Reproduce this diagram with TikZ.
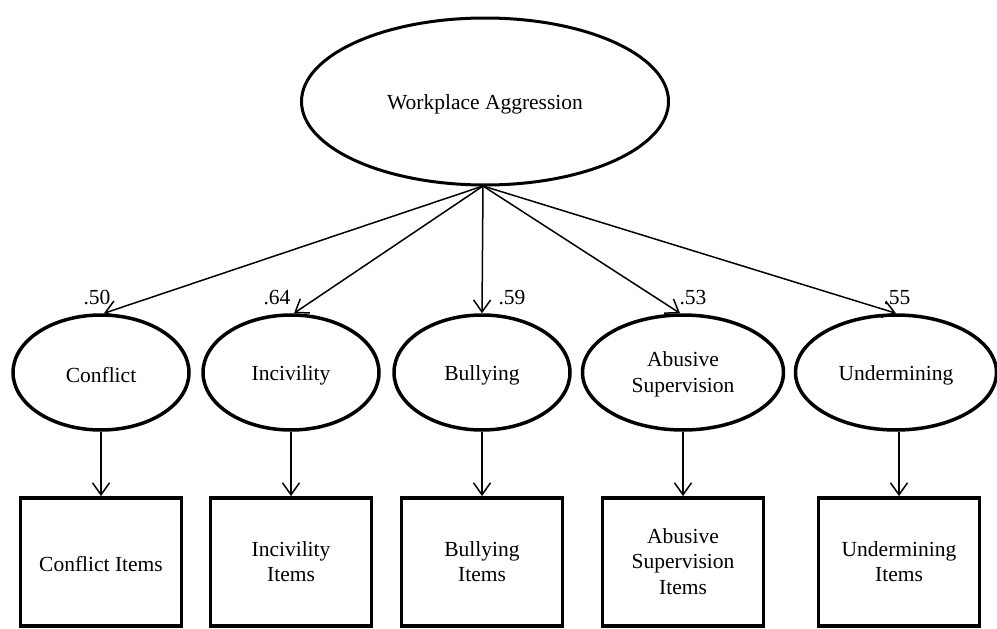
\documentclass[tikz,border=0pt]{standalone}
\usepackage{fontspec}
\setmainfont{Liberation Serif}
\usetikzlibrary{shapes.geometric,arrows.meta}

% fixed line height for node text, so labels sit evenly in their shapes
\newcommand\nodestrut{\rule[-1pt]{0pt}{21pt}}

\begin{document}
\begin{tikzpicture}[x=1pt,y=-1pt,
  every node/.style={font=\fontsize{21.5}{25.5}\selectfont, inner sep=0pt, align=center,
    execute at begin node=\nodestrut, execute at end node=\nodestrut},
  factor/.style={ellipse, draw, line width=3pt, minimum width=367pt, minimum height=167pt},
  latent/.style={ellipse, draw, line width=3.5pt, minimum width=176pt, minimum height=115pt},
  wide latent/.style={latent, minimum width=201pt},
  itembox/.style={rectangle, draw, line width=3.8pt, minimum width=161pt, minimum height=128pt},
  load/.style={-{Straight Barb[length=12pt,width=17pt]}, line width=1.5pt}
]
\useasboundingbox (0,0) rectangle (997,629);

% second-order factor
\node[factor] (wa) at (485,101.5) {Workplace Aggression};
\coordinate (src) at (483,186);

% first-order factors
\node[latent]      (conf) at (101,372.5) {Conflict};
\node[latent]      (inci) at (291,372.5) {Incivility};
\node[latent]      (bull) at (482,372.5) {Bullying};
\node[wide latent] (abus) at (683,372.5) {Abusive\\\smash{Supervision}};
\node[wide latent] (unde) at (896,372.5) {Undermining};

% indicator boxes
\node[itembox] (conf-i) at (101,562) {Conflict Items};
\node[itembox] (inci-i) at (291,562) {Incivility\\Items};
\node[itembox] (bull-i) at (482,562) {Bullying\\Items};
\node[itembox] (abus-i) at (683,562) {Abusive\\Supervision\\Items};
\node[itembox] (unde-i) at (899,562) {Undermining\\Items};

% loadings from the general factor
\draw[load] (src) -- ([xshift=3pt]conf.north);
\draw[load] (src) -- ([xshift=3pt]inci.north);
\draw[load] (src) -- (bull.north);
\draw[load] (src) -- ([xshift=-3pt]abus.north);
\draw[load] (src) -- (unde.north);

% loading values
\node (l1) at (97,295)  {.50};
\node (l2) at (277,295) {.64};
\node (l3) at (512,295) {.59};
\node (l4) at (693,295) {.53};
\node (l5) at (897,295) {.55};

% factors to their items
\draw[load] (conf.south) -- (conf.south |- conf-i.north);
\draw[load] (inci.south) -- (inci.south |- inci-i.north);
\draw[load] (bull.south) -- (bull.south |- bull-i.north);
\draw[load] (abus.south) -- (abus.south |- abus-i.north);
\draw[load] (unde-i.north |- unde.south) -- (unde-i.north);
\end{tikzpicture}
\end{document}
